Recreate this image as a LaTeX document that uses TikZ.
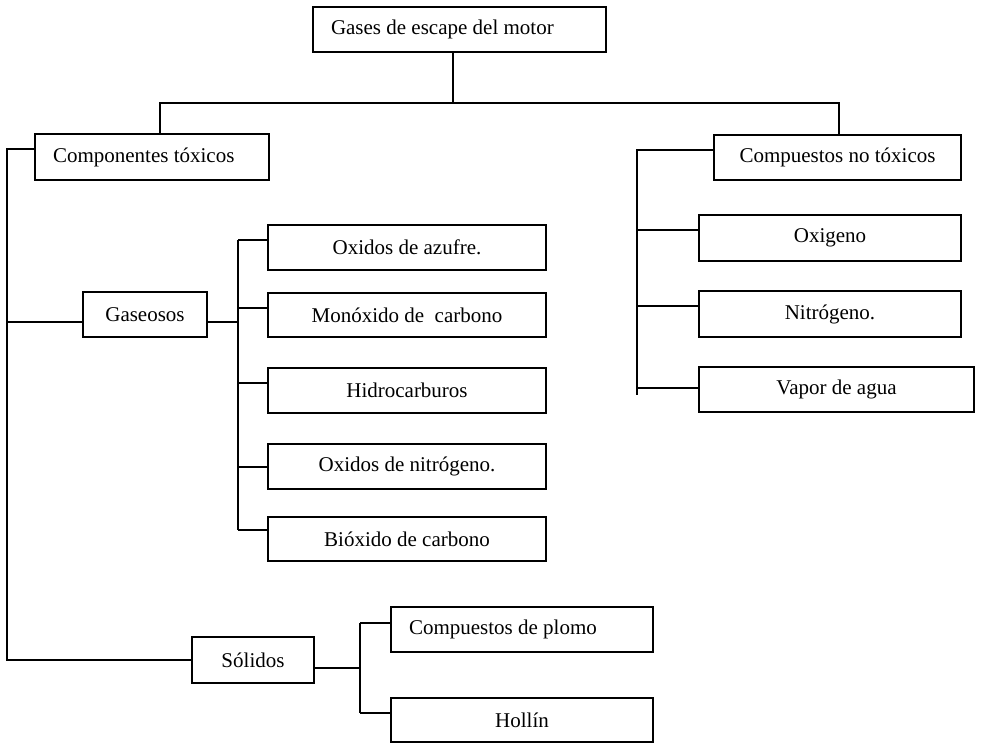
\documentclass[tikz,border=0pt]{standalone}
\usepackage{fontspec}
\setmainfont{Liberation Serif}
\begin{document}
\begin{tikzpicture}[x=1pt,y=-1pt,
  every node/.style={font=\fontsize{21}{25}\selectfont},
  cbox/.style={draw,line width=1.8pt,inner sep=0pt,align=center},
  lbox/.style={draw,line width=1.8pt,inner ysep=0pt,inner xsep=18pt},
  conn/.style={line width=1.8pt}]
\useasboundingbox (0,0) rectangle (981,744);
% boxes
\node[lbox,minimum height=45] (top) at (459.5,29.5) {\makebox[257pt][l]{Gases de escape del motor}};
\node[lbox,minimum height=46] (ct) at (152,157) {\makebox[198pt][l]{Componentes tóxicos}};
\node[cbox,minimum width=247,minimum height=45] (cnt) at (837.5,157.5) {Compuestos no tóxicos};
\node[cbox,minimum width=262,minimum height=46] (oxi) at (830,238) {Oxigeno};
\node[cbox,minimum width=262,minimum height=46] (nit) at (830,314) {Nitrógeno.};
\node[cbox,minimum width=275,minimum height=45] (vap) at (836.5,389.5) {Vapor de agua};
\node[cbox,minimum width=124,minimum height=45] (gas) at (145,314.5) {Gaseosos};
\node[cbox,minimum width=278,minimum height=45] (oxa) at (407,247.5) {Oxidos de azufre.};
\node[cbox,minimum width=278,minimum height=44] (mon) at (407,315) {Monóxido de\ \ carbono};
\node[cbox,minimum width=278,minimum height=45] (hid) at (407,390.5) {Hidrocarburos};
\node[cbox,minimum width=278,minimum height=45] (oxn) at (407,466.5) {Oxidos de nitrógeno.};
\node[cbox,minimum width=278,minimum height=44] (bio) at (407,539) {Bióxido de carbono};
\node[cbox,minimum width=122,minimum height=46] (sol) at (253,660) {Sólidos};
\node[lbox,minimum height=45] (plo) at (522,629.5) {\makebox[226pt][l]{Compuestos de plomo}};
\node[cbox,minimum width=262,minimum height=44] (hol) at (522,720) {Hollín};
% junction coordinates
\coordinate (j0) at (453,103);
\coordinate (jl) at (160,103);
\coordinate (jr) at (839,103);
\coordinate (s1) at (7,149);
\coordinate (s2) at (7,322);
\coordinate (s3) at (7,660);
\coordinate (g0) at (238,322);
\coordinate (g1) at (238,240);
\coordinate (g2) at (238,308);
\coordinate (g3) at (238,383);
\coordinate (g4) at (238,467);
\coordinate (g5) at (238,530);
\coordinate (r0) at (637,150);
\coordinate (r1) at (637,230);
\coordinate (r2) at (637,306);
\coordinate (r3) at (637,388);
\coordinate (r4) at (637,395);
\coordinate (q0) at (360,668);
\coordinate (q1) at (360,623);
\coordinate (q2) at (360,713);
% connectors
\draw[conn] (top.south -| j0) -- (j0);
\draw[conn] (ct.north -| jl) -- (jl) -- (jr) -- (cnt.north -| jr);
\draw[conn] (ct.west |- s1) -- (s1) -- (s3) -- (sol.west |- s3);
\draw[conn] (s2) -- (gas.west |- s2);
\draw[conn] (gas.east |- g0) -- (g0);
\draw[conn] (g1) -- (g5);
\draw[conn] (g1) -- (oxa.west |- g1);
\draw[conn] (g2) -- (mon.west |- g2);
\draw[conn] (g3) -- (hid.west |- g3);
\draw[conn] (g4) -- (oxn.west |- g4);
\draw[conn] (g5) -- (bio.west |- g5);
\draw[conn] (cnt.west |- r0) -- (r0) -- (r4);
\draw[conn] (r1) -- (oxi.west |- r1);
\draw[conn] (r2) -- (nit.west |- r2);
\draw[conn] (r3) -- (vap.west |- r3);
\draw[conn] (sol.east |- q0) -- (q0);
\draw[conn] (q1) -- (q2);
\draw[conn] (q1) -- (plo.west |- q1);
\draw[conn] (q2) -- (hol.west |- q2);
\end{tikzpicture}
\end{document}
